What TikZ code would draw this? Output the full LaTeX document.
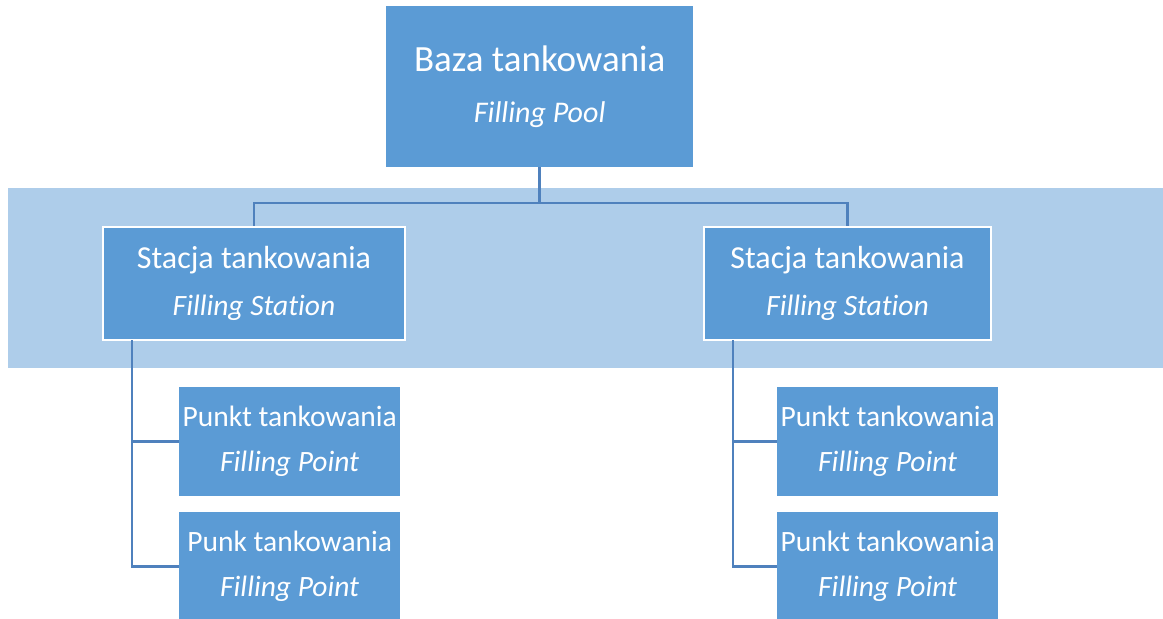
\documentclass[tikz,border=0pt]{standalone}
\usepackage{fontspec}
\setmainfont{Carlito}[Ligatures=NoCommon]
\definecolor{boxblue}{HTML}{5B9BD5}
\definecolor{bandblue}{HTML}{AECDEA}
\definecolor{linkblue}{HTML}{4F81BD}
\begin{document}
\begin{tikzpicture}[x=1pt,y=-1pt,
  box/.style={fill=boxblue,text=white,align=center,inner sep=0pt,anchor=north west},
  topbox/.style={box,minimum width=307pt,minimum height=161pt,font=\fontsize{37}{51}\selectfont},
  stbox/.style={box,draw=white,line width=2pt,minimum height=113pt,font=\fontsize{32}{47}\selectfont},
  ptbox/.style={box,minimum width=221pt,minimum height=109pt,font=\fontsize{29.5}{45}\selectfont},
  conn/.style={draw=linkblue,line width=2.5pt}]
\useasboundingbox (0,0) rectangle (1163,619);
\fill[bandblue] (8,188) rectangle (1163,368);
\node[topbox] (top) at (386,6) {Baza tankowania\\{\fontsize{30}{51}\selectfont\itshape Filling Pool}};
\node[stbox,minimum width=302pt] (st1) at (102,226) {Stacja tankowania\\{\fontsize{29.5}{47}\selectfont\itshape Filling Station}};
\node[stbox,minimum width=287pt] (st2) at (703,226) {Stacja tankowania\\{\fontsize{29.5}{47}\selectfont\itshape Filling Station}};
\node[ptbox] (p1) at (179,387) {Punkt tankowania\\\textit{Filling Point}};
\node[ptbox] (p2) at (179,512) {Punk tankowania\\\textit{Filling Point}};
\node[ptbox] (p3) at (777,387) {Punkt tankowania\\\textit{Filling Point}};
\node[ptbox] (p4) at (777,512) {Punkt tankowania\\\textit{Filling Point}};
\coordinate (bus) at (539,203);
\coordinate (t1) at (132,340);
\coordinate (t2) at (733,340);
\draw[conn] (top.south) -- (top.south |- bus) -| (st1.north);
\draw[conn] (top.south |- bus) -| (st2.north);
\draw[conn] (t1) |- (p2.west);
\draw[conn] (t1 |- p1.west) -- (p1.west);
\draw[conn] (t2) |- (p4.west);
\draw[conn] (t2 |- p3.west) -- (p3.west);
\end{tikzpicture}
\end{document}
